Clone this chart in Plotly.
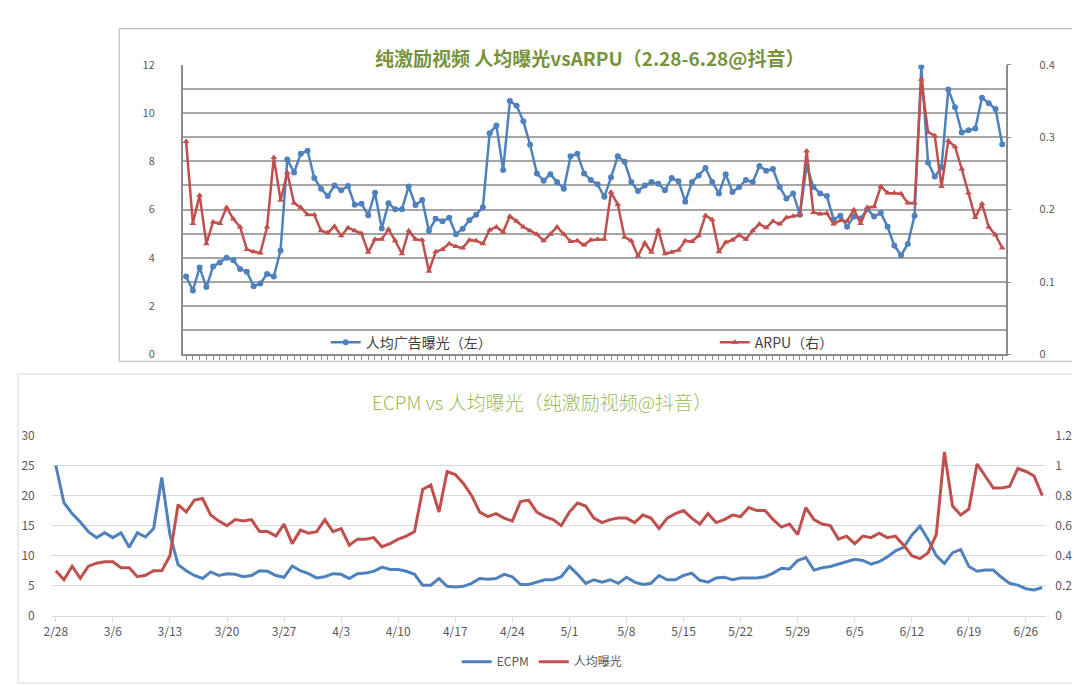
import pandas as pd
import plotly.graph_objects as go

W, H = 1080, 686

# 每日数据 2020-02-28 ~ 2020-06-28
days = pd.date_range("2020-02-28", "2020-06-28", freq="D")

# 上图：人均广告曝光（左轴）与 ARPU（右轴）
exposure_top = [
    3.23, 2.65, 3.6, 2.79, 3.64, 3.81, 4.01, 3.9, 3.54, 3.43,
    2.83, 2.94, 3.33, 3.23, 4.31, 8.08, 7.54, 8.32, 8.44, 7.31,
    6.87, 6.56, 7.0, 6.8, 6.98, 6.2, 6.24, 5.77, 6.7, 5.22,
    6.26, 6.02, 6.02, 6.96, 6.19, 6.4, 5.12, 5.62, 5.52, 5.66,
    4.98, 5.21, 5.56, 5.79, 6.1, 9.16, 9.49, 7.64, 10.5, 10.3,
    9.66, 8.69, 7.5, 7.2, 7.47, 7.14, 6.87, 8.21, 8.31, 7.5,
    7.23, 7.05, 6.53, 7.34, 8.21, 7.98, 7.14, 6.77, 7.0, 7.14,
    7.07, 6.8, 7.31, 7.18, 6.33, 7.14, 7.41, 7.72, 7.14, 6.67,
    7.47, 6.73, 6.94, 7.23, 7.14, 7.81, 7.61, 7.68, 6.94, 6.46,
    6.67, 5.79, 7.81, 6.94, 6.67, 6.56, 5.59, 5.75, 5.29, 5.72,
    5.63, 6.02, 5.72, 5.86, 5.29, 4.51, 4.11, 4.58, 5.75, 11.92,
    7.95, 7.37, 7.75, 10.98, 10.24, 9.2, 9.29, 9.36, 10.64, 10.41,
    10.17, 8.71,
]
arpu_top = [
    0.294, 0.181, 0.22, 0.153, 0.183, 0.181, 0.203, 0.187, 0.176, 0.145,
    0.142, 0.14, 0.176, 0.272, 0.213, 0.251, 0.209, 0.203, 0.193, 0.193,
    0.171, 0.168, 0.177, 0.164, 0.175, 0.171, 0.167, 0.141, 0.159, 0.159,
    0.173, 0.157, 0.139, 0.171, 0.159, 0.158, 0.115, 0.142, 0.145, 0.153,
    0.149, 0.147, 0.158, 0.157, 0.153, 0.172, 0.176, 0.169, 0.191, 0.184,
    0.176, 0.171, 0.166, 0.157, 0.166, 0.176, 0.166, 0.156, 0.157, 0.151,
    0.158, 0.159, 0.159, 0.224, 0.207, 0.162, 0.157, 0.136, 0.154, 0.141,
    0.172, 0.139, 0.141, 0.144, 0.157, 0.156, 0.164, 0.192, 0.186, 0.142,
    0.155, 0.158, 0.165, 0.159, 0.171, 0.18, 0.175, 0.184, 0.18, 0.189,
    0.191, 0.193, 0.281, 0.196, 0.194, 0.195, 0.18, 0.185, 0.184, 0.2,
    0.181, 0.203, 0.204, 0.232, 0.223, 0.223, 0.222, 0.209, 0.209, 0.38,
    0.307, 0.302, 0.232, 0.295, 0.287, 0.256, 0.223, 0.189, 0.208, 0.176,
    0.165, 0.147,
]

# 下图：ECPM（左轴）与 人均曝光（右轴）
ecpm = [
    25.0, 18.8, 17.0, 15.6, 14.0, 13.0, 13.8, 13.0, 13.8, 11.4,
    13.8, 13.1, 14.5, 23.0, 13.5, 8.5, 7.5, 6.7, 6.2, 7.3,
    6.7, 7.0, 6.9, 6.5, 6.7, 7.5, 7.4, 6.7, 6.4, 8.3,
    7.5, 7.0, 6.3, 6.5, 7.0, 6.9, 6.2, 7.0, 7.1, 7.4,
    8.1, 7.7, 7.7, 7.4, 6.9, 5.1, 5.1, 6.2, 4.9, 4.8,
    4.9, 5.4, 6.2, 6.1, 6.2, 6.9, 6.5, 5.2, 5.2, 5.6,
    6.0, 6.0, 6.5, 8.2, 6.9, 5.4, 6.0, 5.6, 6.0, 5.4,
    6.4, 5.6, 5.2, 5.4, 6.7, 6.0, 6.0, 6.7, 7.1, 5.9,
    5.6, 6.3, 6.4, 6.0, 6.3, 6.3, 6.3, 6.5, 7.1, 7.9,
    7.8, 9.2, 9.7, 7.6, 8.0, 8.2, 8.6, 8.9, 9.4, 9.2,
    8.6, 9.0, 9.8, 10.8, 11.4, 13.4, 14.9, 12.7, 10.0, 8.7,
    10.5, 11.0, 8.2, 7.4, 7.6, 7.6, 6.4, 5.4, 5.1, 4.5,
    4.3, 4.7,
]
exposure_bottom = [
    0.30, 0.24, 0.33, 0.25, 0.33, 0.35, 0.36, 0.36, 0.32, 0.32,
    0.26, 0.27, 0.30, 0.30, 0.40, 0.74, 0.69, 0.77, 0.78, 0.67,
    0.63, 0.60, 0.64, 0.63, 0.64, 0.56, 0.56, 0.53, 0.61, 0.48,
    0.57, 0.55, 0.56, 0.64, 0.56, 0.58, 0.47, 0.51, 0.51, 0.52,
    0.46, 0.48, 0.51, 0.53, 0.56, 0.84, 0.87, 0.69, 0.96, 0.94,
    0.88, 0.80, 0.69, 0.66, 0.68, 0.65, 0.63, 0.76, 0.77, 0.69,
    0.66, 0.64, 0.60, 0.69, 0.75, 0.73, 0.65, 0.62, 0.64, 0.65,
    0.65, 0.62, 0.67, 0.65, 0.58, 0.65, 0.68, 0.70, 0.65, 0.61,
    0.68, 0.62, 0.64, 0.67, 0.66, 0.72, 0.70, 0.70, 0.64, 0.59,
    0.61, 0.54, 0.72, 0.64, 0.61, 0.60, 0.51, 0.53, 0.48, 0.53,
    0.52, 0.55, 0.52, 0.53, 0.47, 0.40, 0.38, 0.42, 0.54, 1.09,
    0.73, 0.67, 0.71, 1.01, 0.93, 0.85, 0.85, 0.86, 0.98, 0.96,
    0.93, 0.80,
]

week_labels = ["2/28", "3/6", "3/13", "3/20", "3/27", "4/3", "4/10", "4/17", "4/24",
               "5/1", "5/8", "5/15", "5/22", "5/29", "6/5", "6/12", "6/19", "6/26"]
week_ticks = pd.date_range("2020-02-28", periods=len(week_labels), freq="7D")

top_left_ticks = list(range(13))
top_left_text = [str(v) if v % 2 == 0 else "" for v in top_left_ticks]

BLUE = "#4f81bd"
RED = "#c0504d"
FONT = "Noto Sans CJK SC, Noto Sans, sans-serif"
half_day = pd.Timedelta(hours=12)
x_range = [days[0] - half_day, days[-1] + half_day]

fig = go.Figure()

fig.add_trace(go.Scatter(
    x=days, y=exposure_top, name="人均广告曝光（左）", mode="lines+markers",
    line=dict(color=BLUE, width=2.5), marker=dict(symbol="circle", size=6, color=BLUE),
    xaxis="x", yaxis="y", legend="legend"))
fig.add_trace(go.Scatter(
    x=days, y=arpu_top, name="ARPU（右）", mode="lines+markers",
    line=dict(color=RED, width=2.5), marker=dict(symbol="triangle-up", size=6, color=RED),
    xaxis="x", yaxis="y2", legend="legend2"))
fig.add_trace(go.Scatter(
    x=days, y=ecpm, name="ECPM", mode="lines",
    line=dict(color=BLUE, width=3), xaxis="x2", yaxis="y3", legend="legend3"))
fig.add_trace(go.Scatter(
    x=days, y=exposure_bottom, name="人均曝光", mode="lines",
    line=dict(color=RED, width=3), xaxis="x2", yaxis="y4", legend="legend3"))

top_legend_style = dict(
    yanchor="middle", xanchor="left", orientation="h", itemwidth=30,
    bgcolor="rgba(0,0,0,0)", font=dict(size=14, color="#404040"))

fig.update_layout(
    width=W, height=H,
    margin=dict(l=0, r=0, t=0, b=0),
    showlegend=True,
    paper_bgcolor="white", plot_bgcolor="white",
    font=dict(family=FONT, size=12, color="#595959"),
    xaxis=dict(
        domain=[168 / W, 997 / W], anchor="y", range=x_range,
        showgrid=False, showticklabels=False, ticks="outside",
        tick0=days[0], dtick=86400000, ticklen=4, tickcolor="#8c8c8c",
        showline=True, linecolor="#8c8c8c", linewidth=1.5),
    yaxis=dict(
        domain=[1 - 345 / H, 1 - 48 / H], anchor="x", range=[0, 12],
        tickvals=top_left_ticks, ticktext=top_left_text,
        gridcolor="#a6a6a6", gridwidth=1.5, zeroline=False,
        showline=True, linecolor="#8c8c8c", linewidth=1.5,
        ticklabelstandoff=24, tickfont=dict(size=11)),
    yaxis2=dict(
        overlaying="y", side="right", anchor="x", range=[0, 0.4], dtick=0.1,
        showgrid=False, zeroline=False, showline=True, linecolor="#8c8c8c",
        linewidth=1.5, ticks="outside", ticklen=4, tickcolor="#8c8c8c",
        ticklabelstandoff=26, tickfont=dict(size=11)),
    xaxis2=dict(
        domain=[36 / W, 1038 / W], anchor="y3", range=x_range,
        tickvals=week_ticks, ticktext=week_labels, showgrid=False,
        ticks="outside", ticklen=5, tickcolor="#d9d9d9",
        showline=True, linecolor="#d9d9d9", tickfont=dict(size=12)),
    yaxis3=dict(
        domain=[1 - 613 / H, 1 - 428 / H], anchor="x2", range=[0, 30], dtick=5,
        gridcolor="#d9d9d9", zeroline=False, showline=False,
        ticklabelstandoff=16, tickfont=dict(size=12)),
    yaxis4=dict(
        overlaying="y3", side="right", anchor="x2", range=[0, 1.2], dtick=0.2,
        showgrid=False, zeroline=False, showline=False,
        ticklabelstandoff=8, tickfont=dict(size=12)),
    legend=dict(x=312 / W, y=1 - 333 / H, **top_legend_style),
    legend2=dict(x=704 / W, y=1 - 333 / H, **top_legend_style),
    legend3=dict(
        x=444 / W, y=1 - 660 / H, xanchor="left", yanchor="middle",
        orientation="h", itemwidth=30, bgcolor="rgba(0,0,0,0)",
        font=dict(size=12, color="#595959")),
    shapes=[
        dict(type="rect", xref="paper", yref="paper",
             x0=104 / W, x1=1074 / W, y0=1 - 352 / H, y1=1 - 11 / H,
             line=dict(color="#b0b0b0", width=1), layer="below"),
        dict(type="rect", xref="paper", yref="paper",
             x0=2 / W, x1=1076 / W, y0=1 - 682 / H, y1=1 - 365 / H,
             line=dict(color="#d9d9d9", width=1), layer="below"),
    ],
    annotations=[
        dict(text="<b>纯激励视频 人均曝光vsARPU（2.28-6.28@抖音）</b>",
             x=578 / W, y=1 - 25 / H, xref="paper", yref="paper",
             showarrow=False, font=dict(size=19, color="#77933c")),
        dict(text="ECPM vs 人均曝光（纯激励视频@抖音）",
             x=530 / W, y=1 - 393 / H, xref="paper", yref="paper",
             showarrow=False, font=dict(size=19, color="#9bbb59", weight=300)),
    ],
)

fig.write_html("out.html")
